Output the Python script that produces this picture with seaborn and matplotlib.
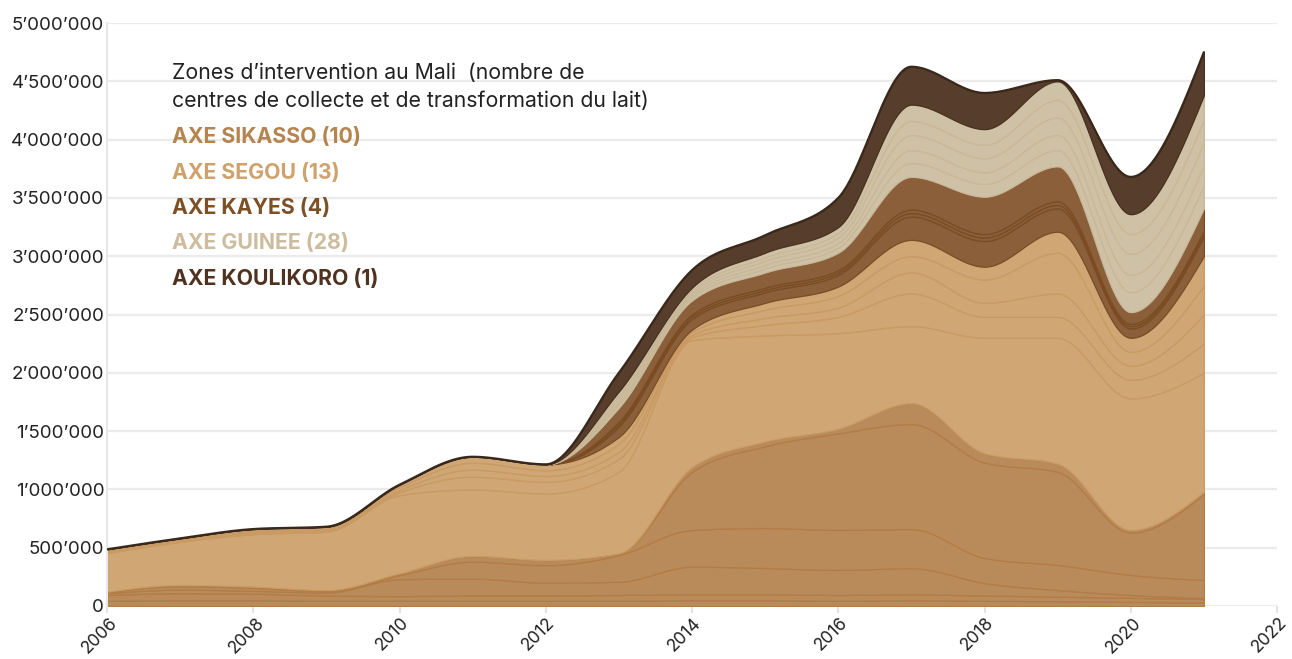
import numpy as np
import pandas as pd
import seaborn as sns
import matplotlib
matplotlib.use("Agg")
import matplotlib.pyplot as plt
import matplotlib.transforms as mtransforms
from matplotlib.ticker import FuncFormatter, MultipleLocator

## Litres de lait collectés par centre, regroupés par axe (valeurs en milliers)
years = list(range(2006, 2022))

sikasso_1 = [45, 50, 50, 45, 45, 45, 45, 45, 50, 50, 45, 50, 45, 40, 35, 30]
sikasso_2 = [49, 60, 55, 45, 40, 45, 45, 50, 50, 50, 50, 50, 45, 40, 35, 30]
sikasso_3 = [16, 30, 25, 25, 145, 145, 110, 113, 237, 226, 214, 225, 107, 57, 24, 9]
sikasso_4 = [8, 30, 25, 13, 35, 145, 150, 229, 315, 343, 343, 335, 215, 215, 172, 154]
sikasso_5 = [5, 10, 11, 9, 15, 49, 45, 15, 498, 701, 828, 900, 818, 798, 364, 737]
sikasso_6 = [0, 0, 0, 0, 0, 0, 0, 0, 40, 40, 40, 180, 80, 70, 22, 20]

segou_1 = [330, 370, 450, 500, 670, 570, 570, 700, 1090, 910, 820, 660, 990, 1080, 1128, 1020]
segou_2 = [8, 8, 11, 11, 25, 110, 100, 110, 25, 90, 140, 280, 180, 180, 160, 250]
segou_3 = [8, 7, 11, 10, 20, 60, 50, 60, 20, 60, 80, 180, 120, 200, 120, 250]
segou_4 = [8, 8, 11, 11, 25, 60, 50, 70, 25, 70, 100, 140, 200, 350, 120, 250]
segou_5 = [9, 7, 11, 11, 20, 51, 50, 58, 20, 60, 80, 140, 110, 180, 120, 250]

kayes_1 = [0, 0, 0, 0, 0, 0, 0, 90, 90, 90, 100, 200, 220, 200, 80, 170]
kayes_2 = [0, 0, 0, 0, 0, 0, 0, 20, 20, 20, 20, 30, 30, 30, 20, 25]
kayes_3 = [0, 0, 0, 0, 0, 0, 0, 20, 20, 20, 20, 30, 30, 30, 20, 25]
kayes_4 = [0, 0, 0, 0, 0, 0, 0, 120, 120, 130, 150, 280, 320, 300, 100, 190]

guinee_1 = [0, 0, 0, 0, 0, 0, 0, 30, 25, 35, 45, 120, 110, 140, 170, 200]
guinee_2 = [0, 0, 0, 0, 0, 0, 0, 25, 20, 30, 40, 110, 100, 130, 150, 170]
guinee_3 = [0, 0, 0, 0, 0, 0, 0, 30, 20, 35, 45, 130, 120, 150, 180, 200]
guinee_4 = [0, 0, 0, 0, 0, 0, 0, 25, 20, 30, 40, 120, 115, 150, 170, 190]
guinee_5 = [0, 0, 0, 0, 0, 0, 0, 30, 25, 40, 50, 140, 135, 160, 170, 210]

koulikoro_1 = [0, 0, 0, 0, 0, 0, 0, 160, 150, 150, 250, 325, 310, 10, 320, 370]

groups = [
    ("AXE SIKASSO (10)", [sikasso_1, sikasso_2, sikasso_3, sikasso_4, sikasso_5, sikasso_6],
     "#b98b5b", "#b27c45", "#b5844f"),
    ("AXE SEGOU (13)", [segou_1, segou_2, segou_3, segou_4, segou_5],
     "#cfa674", "#c99a62", "#cfa26c"),
    ("AXE KAYES (4)", [kayes_1, kayes_2, kayes_3, kayes_4],
     "#8a5f39", "#7b4c24", "#7e5026"),
    ("AXE GUINEE (28)", [guinee_1, guinee_2, guinee_3, guinee_4, guinee_5],
     "#cfc1a6", "#c8b898", "#cdbd9e"),
    ("AXE KOULIKORO (1)", [koulikoro_1],
     "#563d2c", "#47311f", "#4f3220"),
]


def monotone(x, y, n=40):
    # courbe monotone (comme curveMonotoneX de d3)
    x = np.asarray(x, float)
    y = np.asarray(y, float)
    h = np.diff(x)
    s = np.diff(y) / h
    t = np.zeros_like(y)
    for i in range(1, len(y) - 1):
        p = (s[i - 1] * h[i] + s[i] * h[i - 1]) / (h[i - 1] + h[i])
        t[i] = (np.sign(s[i - 1]) + np.sign(s[i])) * min(abs(s[i - 1]), abs(s[i]), 0.5 * abs(p))
    t[0] = (3 * s[0] - t[1]) / 2
    t[-1] = (3 * s[-1] - t[-2]) / 2
    xs, ys = [], []
    for i in range(len(h)):
        u = np.linspace(0, 1, n, endpoint=(i == len(h) - 1))
        h00 = 2 * u**3 - 3 * u**2 + 1
        h10 = u**3 - 2 * u**2 + u
        h01 = -2 * u**3 + 3 * u**2
        h11 = u**3 - u**2
        xs.append(x[i] + u * h[i])
        ys.append(h00 * y[i] + h10 * h[i] * t[i] + h01 * y[i + 1] + h11 * h[i] * t[i + 1])
    return np.concatenate(xs), np.concatenate(ys)


def main():
    sns.set_theme(style="white")
    plt.rcParams["font.family"] = ["Inter", "DejaVu Sans"]

    fig = plt.figure(figsize=(12.92, 6.59), dpi=100)
    ax = fig.add_axes([107 / 1292, 53 / 659, 1170 / 1292, 583 / 659])

    base = np.zeros(len(years))
    for name, layers, fill, edge, _ in groups:
        for vals in layers:
            top = base + np.array(vals) * 1000
            xs, lo = monotone(years, base)
            _, hi = monotone(years, top)
            ax.fill_between(xs, lo, hi, facecolor=fill, edgecolor=edge, linewidth=0.9, zorder=2)
            base = top

    # contour du total
    xs, hi = monotone(years, base)
    outline = pd.DataFrame({"year": xs, "total": hi})
    sns.lineplot(data=outline, x="year", y="total", color="#3a281b", linewidth=1.6, ax=ax, zorder=3)

    ax.set_xlim(2006, 2022)
    ax.set_ylim(0, 5_000_000)
    ax.xaxis.set_major_locator(MultipleLocator(2))
    ax.yaxis.set_major_locator(MultipleLocator(500_000))
    ax.yaxis.set_major_formatter(FuncFormatter(lambda v, p: f"{int(v):,}".replace(",", "\u2019")))
    ax.set_xlabel("")
    ax.set_ylabel("")

    ax.yaxis.grid(True, color="#ebebeb", linewidth=1.6, zorder=0)
    ax.xaxis.grid(False)
    ax.set_axisbelow(True)
    for side in ["top", "right", "bottom"]:
        ax.spines[side].set_visible(False)
    ax.spines["left"].set_color("#e8e8e8")
    ax.spines["left"].set_linewidth(1.5)

    ax.tick_params(axis="y", length=0, pad=2, labelsize=13.5, labelcolor="#222222")
    ax.tick_params(axis="x", length=5, width=1.5, color="#e3e3e3", pad=1,
                   labelsize=12.5, labelcolor="#222222", bottom=True)
    shift = mtransforms.ScaledTranslation(-7 / 100, 0, fig.dpi_scale_trans)
    for lbl in ax.get_xticklabels():
        lbl.set_rotation(45)
        lbl.set_ha("center")
        lbl.set_transform(lbl.get_transform() + shift)

    # légende en texte
    fig.text(172 / 1292, 1 - 73 / 659, "Zones d\u2019intervention au Mali  (nombre de",
             fontsize=15.3, color="#222222", va="center")
    fig.text(172 / 1292, 1 - 101 / 659, "centres de collecte et de transformation du lait)",
             fontsize=15.3, color="#222222", va="center")
    for i, (name, _, _, _, tcolor) in enumerate(groups):
        fig.text(172 / 1292, 1 - (137 + 35.5 * i) / 659, name, fontsize=15.3,
                 fontweight="bold", color=tcolor, va="center")

    fig.savefig("out.png", dpi=100)


if __name__ == "__main__":
    main()
